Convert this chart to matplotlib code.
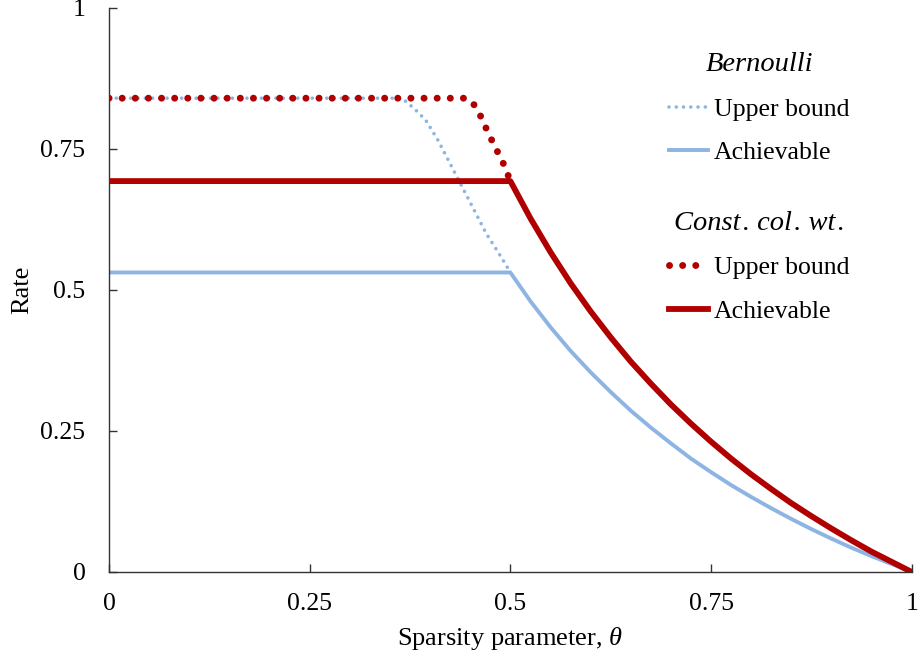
import matplotlib
matplotlib.use("Agg")
import matplotlib.pyplot as plt

plt.rcParams['font.family'] = ['Liberation Serif', 'DejaVu Serif']
plt.rcParams['mathtext.fontset'] = 'custom'
plt.rcParams['mathtext.rm'] = 'Liberation Serif'
plt.rcParams['mathtext.it'] = 'Liberation Serif:italic'

# values
theta_ub_bern = [0.0, 0.365, 0.375, 0.385, 0.395, 0.41, 0.43, 0.45, 0.47, 0.49, 0.5]
rate_ub_bern = [0.84, 0.84, 0.828, 0.815, 0.80, 0.765, 0.71, 0.655, 0.60, 0.555, 0.531]

theta_ub_ccw = [0.0, 0.446, 0.455, 0.463, 0.47, 0.477, 0.484, 0.492, 0.5]
rate_ub_ccw = [0.84, 0.84, 0.828, 0.808, 0.786, 0.765, 0.745, 0.722, 0.693]

theta_ach = [0.0, 0.5, 0.525, 0.55, 0.575, 0.6, 0.625, 0.65, 0.675, 0.7, 0.725,
             0.75, 0.775, 0.8, 0.825, 0.85, 0.875, 0.9, 0.925, 0.95, 0.975, 1.0]
rate_ach_bern = [0.531, 0.531, 0.480, 0.434, 0.392, 0.354, 0.319, 0.286, 0.256, 0.228, 0.201,
                 0.177, 0.154, 0.133, 0.113, 0.094, 0.076, 0.059, 0.043, 0.028, 0.014, 0.0]
rate_ach_ccw = [0.693, 0.693, 0.627, 0.567, 0.512, 0.462, 0.416, 0.373, 0.334, 0.297, 0.263,
                0.231, 0.201, 0.173, 0.147, 0.122, 0.099, 0.077, 0.056, 0.036, 0.018, 0.0]

ticks = [0, 0.25, 0.5, 0.75, 1]
tick_labels = ['0', '0.25', '0.5', '0.75', '1']

blue = '#8db4e2'
red = '#b00000'

fig = plt.figure(figsize=(9.2, 6.62), dpi=100)
ax = fig.add_axes([0.1185, 0.136, 0.8725, 0.852])

l1, = ax.plot(theta_ub_bern, rate_ub_bern, color=blue, lw=2.6, linestyle=(0, (0.01, 2.0)),
              dash_capstyle='round', zorder=3)
l2, = ax.plot(theta_ach, rate_ach_bern, color=blue, lw=2.8, zorder=2)
l3, = ax.plot(theta_ub_ccw, rate_ub_ccw, color=red, lw=5, linestyle=(0, (0.01, 1.88)),
              dash_capstyle='round', zorder=4)
l4, = ax.plot(theta_ach, rate_ach_ccw, color=red, lw=4.2, zorder=3)

ax.set_xlim(0, 1)
ax.set_ylim(0, 1)
ax.set_xticks(ticks, tick_labels)
ax.set_yticks(ticks, tick_labels)
ax.tick_params(direction='in', length=6, width=1, labelsize=18.5, color='#333333')
ax.tick_params(axis='x', pad=15)
ax.tick_params(axis='y', pad=17)
for s in ['top', 'right']:
    ax.spines[s].set_visible(False)
for s in ['left', 'bottom']:
    ax.spines[s].set_color('#333333')
    ax.spines[s].set_linewidth(1)

ax.set_xlabel(r'Sparsity parameter, $\theta$', fontsize=19, labelpad=7)
ax.set_ylabel('Rate', fontsize=19, labelpad=5)

leg_kw = dict(frameon=False, fontsize=18.5, handlelength=1.5, handletextpad=0.25,
              labelspacing=0.8, title_fontproperties={'style': 'italic', 'size': 20.5},
              borderaxespad=0)
leg1 = ax.legend([l1, l2], ['Upper bound', 'Achievable'], title='Bernoulli',
                 loc='upper left', bbox_to_anchor=(0.685, 0.94), **leg_kw)
ax.add_artist(leg1)
leg2 = ax.legend([l3, l4], ['Upper bound', 'Achievable'], title='Const\u200a. col\u200a. wt\u200a.',
                 loc='upper left', bbox_to_anchor=(0.685, 0.659), **leg_kw)

fig.savefig('out.png', dpi=100)
